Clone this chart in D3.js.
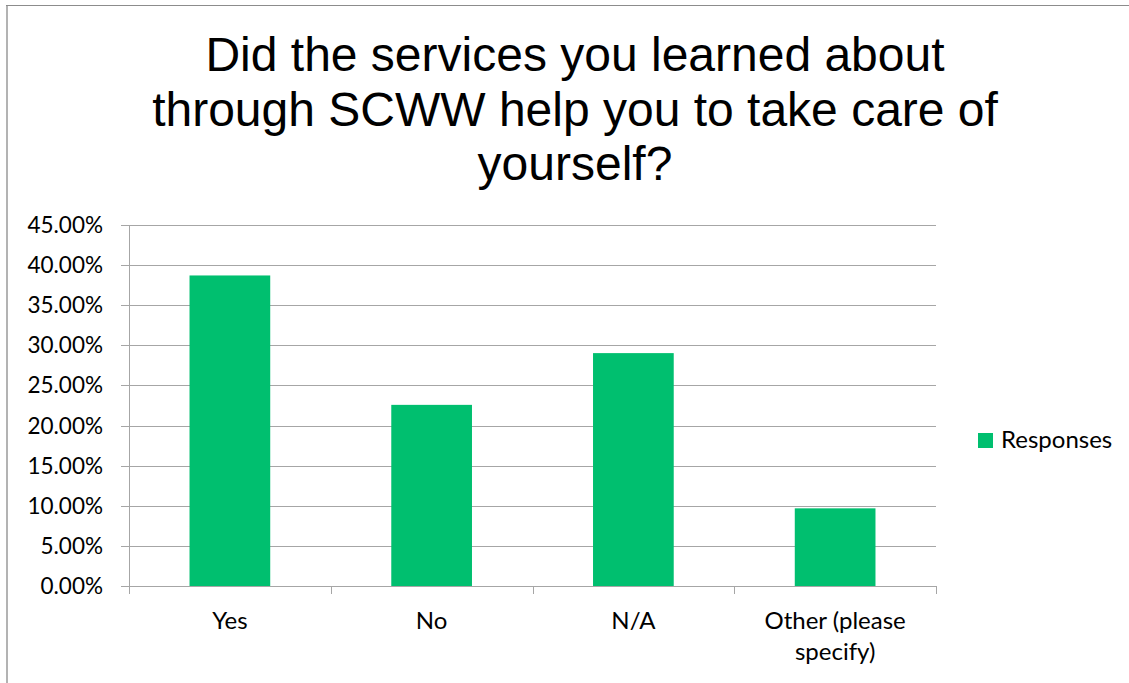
<!DOCTYPE html>
<html>
<head>
<meta charset="utf-8">
<script src="https://cdn.jsdelivr.net/npm/d3@7"></script>
<style>
  html, body { margin: 0; padding: 0; background: #fff; }
  svg { display: block; }
</style>
</head>
<body>
<svg id="chart" width="1129" height="683"></svg>
<script>
// Survey responses (share of 31 respondents)
const categories = ["Yes", "No", "N/A", "Other (please specify)"];
const categoryLines = [["Yes"], ["No"], ["N/A"], ["Other (please", "specify)"]];
const responses = [0.3871, 0.2258, 0.2903, 0.0968];
const yTicks = [0, 0.05, 0.10, 0.15, 0.20, 0.25, 0.30, 0.35, 0.40, 0.45];
const titleLines = [
  "Did the services you learned about",
  "through SCWW help you to take care of",
  "yourself?"
];
const seriesName = "Responses";

const W = 1129, H = 683;
const svg = d3.select("#chart");
const barColor = "#00bf6f";
const gridColor = "#a6a6a6";
const labelFont = "Lato, 'Open Sans', sans-serif";

// Outer frame (left and top edges)
svg.append("line").attr("x1", 7).attr("x2", 7).attr("y1", 5).attr("y2", H)
  .attr("stroke", "#b3b3b3").attr("stroke-width", 2);
svg.append("line").attr("x1", 6).attr("x2", W).attr("y1", 5.5).attr("y2", 5.5)
  .attr("stroke", "#8c8c8c").attr("stroke-width", 1);

// Title
const title = svg.append("text")
  .attr("x", 575).attr("y", 71)
  .attr("text-anchor", "middle")
  .attr("font-family", "'Liberation Sans', Arimo, Arial, sans-serif")
  .attr("font-size", 48)
  .attr("fill", "#000");
titleLines.forEach((t, i) => {
  title.append("tspan").attr("x", 575).attr("dy", i === 0 ? 0 : 54.5).text(t);
});

// Plot area
const plot = { left: 129, right: 936, top: 225, bottom: 586 };
const x = d3.scaleBand().domain(categories).range([plot.left, plot.right]).paddingInner(0.6).paddingOuter(0.3);
const xb = d3.scaleBand().domain(categories).range([plot.left, plot.right]);
const y = d3.scaleLinear().domain([0, 0.45]).range([plot.bottom, plot.top]);

// Horizontal gridlines
svg.append("g").selectAll("line").data(yTicks).join("line")
  .attr("x1", plot.left - 8).attr("x2", plot.right)
  .attr("y1", d => Math.round(y(d)) + 0.5).attr("y2", d => Math.round(y(d)) + 0.5)
  .attr("stroke", gridColor).attr("stroke-width", 1);

// Y axis labels
svg.append("g").selectAll("text").data(yTicks).join("text")
  .attr("x", plot.left - 26).attr("y", d => y(d) + 8)
  .attr("text-anchor", "end")
  .attr("font-family", labelFont).attr("font-size", 22.5).attr("fill", "#000")
  .text(d => d3.format(".2%")(d));

// Bars
svg.append("g").selectAll("rect").data(responses).join("rect")
  .attr("x", (d, i) => x(categories[i]))
  .attr("width", x.bandwidth())
  .attr("y", d => y(d))
  .attr("height", d => y(0) - y(d))
  .attr("fill", barColor);

// Axis lines
svg.append("line").attr("x1", plot.left + 0.5).attr("x2", plot.left + 0.5)
  .attr("y1", plot.top).attr("y2", plot.bottom + 8)
  .attr("stroke", gridColor);
svg.append("line").attr("x1", plot.left).attr("x2", plot.right)
  .attr("y1", Math.round(y(0)) + 0.5).attr("y2", Math.round(y(0)) + 0.5)
  .attr("stroke", gridColor);

// Category boundary ticks
const bounds = categories.map(c => xb(c)).concat([plot.right]);
svg.append("g").selectAll("line").data(bounds).join("line")
  .attr("x1", d => Math.round(d) + 0.5).attr("x2", d => Math.round(d) + 0.5)
  .attr("y1", plot.bottom).attr("y2", plot.bottom + 8)
  .attr("stroke", gridColor);

// Category labels
const catG = svg.append("g").selectAll("text").data(categories).join("text")
  .attr("text-anchor", "middle")
  .attr("font-family", labelFont).attr("font-size", 24).attr("fill", "#000");
catG.each(function(c, i) {
  const cx = xb(c) + xb.bandwidth() / 2;
  const lines = categoryLines[i];
  d3.select(this).selectAll("tspan").data(lines).join("tspan")
    .attr("x", cx)
    .attr("y", (l, j) => 629 + j * 31)
    .text(l => l);
});

// Legend
svg.append("rect").attr("x", 978).attr("y", 433).attr("width", 15).attr("height", 15).attr("fill", barColor);
svg.append("text").attr("x", 1001).attr("y", 448)
  .attr("font-family", labelFont).attr("font-size", 24).attr("fill", "#000")
  .text(seriesName);
</script>
</body>
</html>
